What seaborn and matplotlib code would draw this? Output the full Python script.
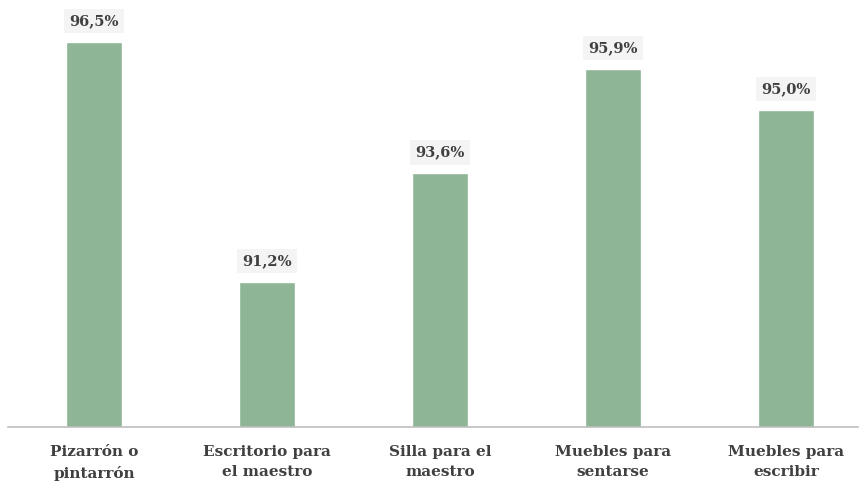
import matplotlib
matplotlib.use("Agg")
import matplotlib.pyplot as plt
import seaborn as sns
import pandas as pd

# Data
categorias = ["Pizarrón o\npintarrón", "Escritorio para\nel maestro", "Silla para el\nmaestro",
              "Muebles para\nsentarse", "Muebles para\nescribir"]
porcentajes = [96.5, 91.2, 93.6, 95.9, 95.0]
etiquetas = ["96,5%", "91,2%", "93,6%", "95,9%", "95,0%"]

df = pd.DataFrame({"categoria": categorias, "porcentaje": porcentajes})

sns.set_style("white")
plt.rcParams["font.family"] = ["DejaVu Serif"]

fig = plt.figure(figsize=(8.65, 4.88), dpi=100)
ax = fig.add_axes([8 / 865, 1 - 427 / 488, 850 / 865, 427 / 488])

sns.barplot(data=df, x="categoria", y="porcentaje", color="#8DB596",
            saturation=1, width=0.32, ax=ax)

ax.set_ylim(88, 97.43)
ax.set_xlim(-0.497, 4.416)

# Value labels on a light gray box
for i, (v, t) in enumerate(zip(porcentajes, etiquetas)):
    ax.annotate(t, (i, v), xytext=(0, 10), textcoords="offset points",
                ha="center", va="bottom", fontsize=10.5, fontweight="bold",
                color="#404040",
                bbox=dict(boxstyle="square,pad=0.35", facecolor="#F4F4F4", edgecolor="none"))

ax.set_xlabel("")
ax.set_ylabel("")
ax.set_yticks([])
ax.tick_params(axis="x", length=0, pad=13, labelsize=11, labelcolor="#404040")
for lbl in ax.get_xticklabels():
    lbl.set_fontweight("bold")
    lbl.set_linespacing(1.55)

for s in ["top", "right", "left"]:
    ax.spines[s].set_visible(False)
ax.spines["bottom"].set_color("#BFBFBF")
ax.spines["bottom"].set_linewidth(1.2)

fig.savefig("out.png", dpi=100)
